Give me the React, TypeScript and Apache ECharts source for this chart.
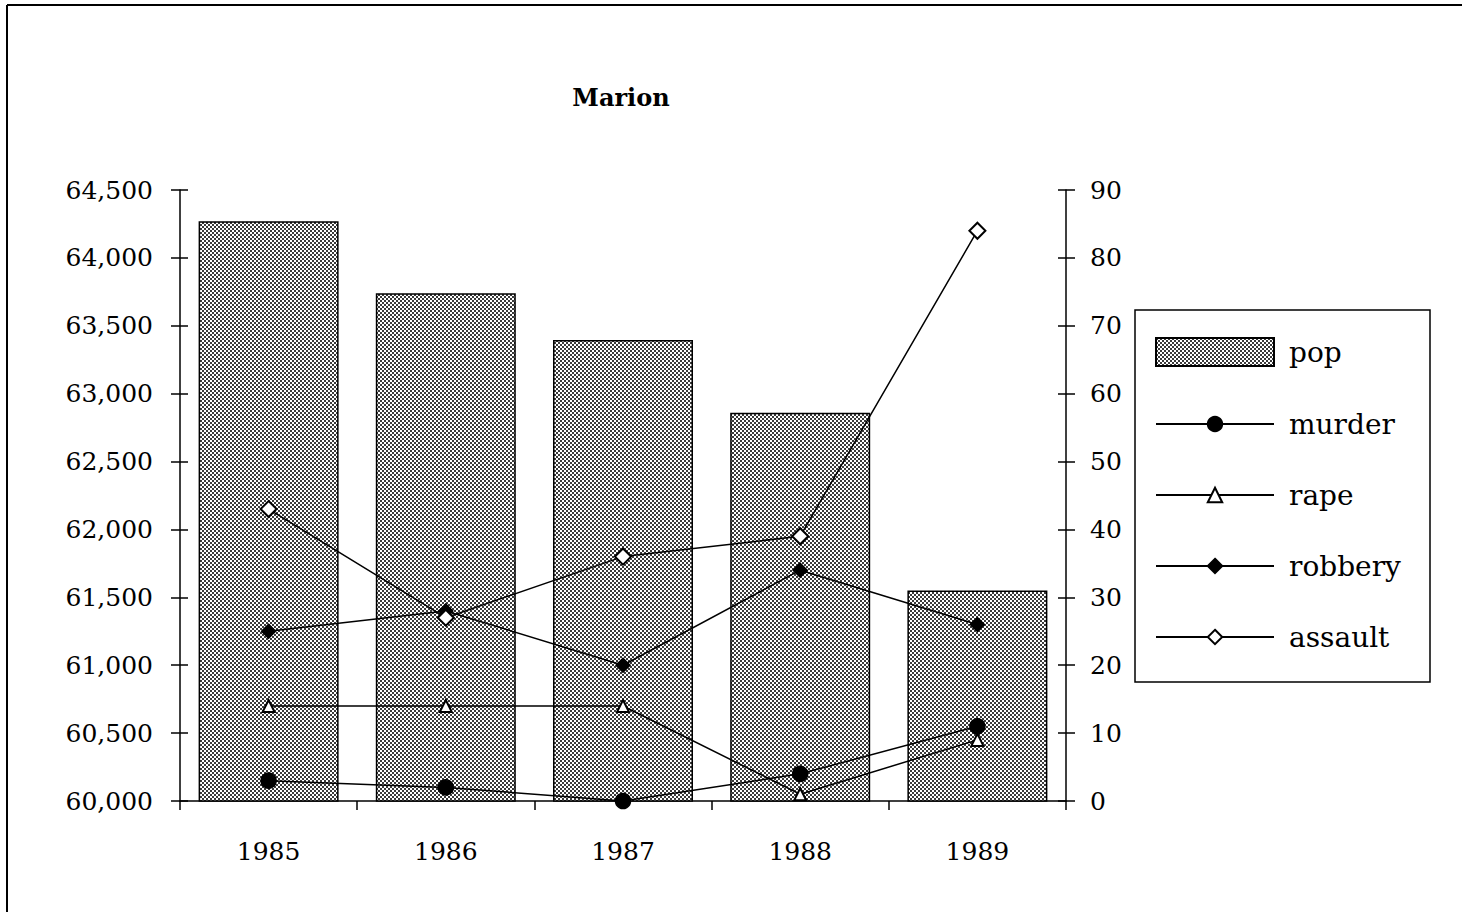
import React, { useEffect, useRef } from "react";
import * as echarts from "echarts";

const years = ["1985", "1986", "1987", "1988", "1989"];
const pop = [64270, 63740, 63395, 62860, 61550];
const murder = [3, 2, 0, 4, 11];
const rape = [14, 14, 14, 1, 9];
const robbery = [25, 28, 20, 34, 26];
const assault = [43, 27, 36, 39, 84];

const title = "Marion";
const FONT = "DejaVu Serif";

function makePattern() {
  const c = document.createElement("canvas");
  c.width = 4;
  c.height = 4;
  const ctx = c.getContext("2d");
  if (ctx) {
    ctx.fillStyle = "#ffffff";
    ctx.fillRect(0, 0, 4, 4);
    ctx.fillStyle = "#3a3a3a";
    ctx.fillRect(0, 0, 2, 2);
    ctx.fillRect(2, 2, 2, 2);
  }
  return c;
}

export default function App() {
  const ref = useRef<HTMLDivElement>(null);
  useEffect(() => {
    if (!ref.current) return;
    const chart = echarts.init(ref.current, null, { renderer: "svg" });
    const pattern = makePattern();
    const lbl = { fontFamily: FONT, fontSize: 25, color: "#000" };
    const lineSeries = (name: string, data: number[], symbol: string, size: number) => ({
      name,
      type: "line",
      yAxisIndex: 1,
      data,
      symbol,
      symbolSize: size,
      showSymbol: true,
      z: 5,
      lineStyle: { color: "#000", width: 1.5 },
      itemStyle: { color: "#000", borderColor: "#000", borderWidth: 1.5 },
    });
    chart.setOption({
      animation: false,
      backgroundColor: "#fff",
      grid: { left: 180, right: 396, top: 190, bottom: 111, containLabel: false },
      graphic: [
        { type: "line", shape: { x1: 7, y1: 5, x2: 1462, y2: 5 }, style: { stroke: "#000", lineWidth: 2 } },
        { type: "line", shape: { x1: 7, y1: 5, x2: 7, y2: 912 }, style: { stroke: "#000", lineWidth: 2 } },
        {
          type: "rect",
          shape: { x: 1135, y: 310, width: 295, height: 372 },
          style: { fill: "none", stroke: "#000", lineWidth: 1.5 },
        },
        {
          type: "text",
          x: 621,
          y: 97,
          style: {
            text: title,
            fontFamily: FONT,
            fontWeight: "bold",
            fontSize: 24,
            fill: "#000",
            align: "center",
            verticalAlign: "middle",
          },
        },
      ],
      legend: [
        {
          data: [{ name: "pop", icon: "rect" }],
          left: 1155,
          top: 334,
          orient: "vertical",
          itemWidth: 118,
          itemHeight: 28,
          padding: 0,
          textStyle: { ...lbl, fontSize: 28, lineHeight: 36, padding: [0, 0, 0, 10] },
        },
        {
          data: ["murder", "rape", "robbery", "assault"],
          left: 1155,
          top: 409,
          orient: "vertical",
          itemWidth: 118,
          itemHeight: 18,
          itemGap: 41,
          padding: 0,
          textStyle: { ...lbl, fontSize: 28, lineHeight: 30, padding: [0, 0, 0, 10] },
        },
      ],
      xAxis: [
        {
          type: "category",
          data: years,
          axisLine: { lineStyle: { color: "#000", width: 1.5 } },
          axisTick: { show: true, length: 9, lineStyle: { color: "#000", width: 1.5 } },
          axisLabel: { ...lbl, margin: 38 },
          splitLine: { show: false },
        },
      ],
      yAxis: [
        {
          type: "value",
          min: 60000,
          max: 64500,
          interval: 500,
          position: "left",
          axisLine: { show: true, lineStyle: { color: "#000", width: 1.5 } },
          axisTick: { show: true, length: 9, lineStyle: { color: "#000", width: 1.5 } },
          axisLabel: { ...lbl, margin: 27, formatter: (v: number) => v.toLocaleString("en-US") },
          splitLine: { show: false },
        },
        {
          type: "value",
          min: 0,
          max: 90,
          interval: 10,
          position: "right",
          axisLine: { show: true, lineStyle: { color: "#000", width: 1.5 } },
          axisTick: { show: true, length: 9, lineStyle: { color: "#000", width: 1.5 } },
          axisLabel: { ...lbl, margin: 24 },
          splitLine: { show: false },
        },
        {
          type: "value",
          min: 60000,
          max: 64500,
          interval: 500,
          position: "left",
          axisLine: { show: false },
          axisTick: { show: true, inside: true, length: 8, lineStyle: { color: "#000", width: 1.5 } },
          axisLabel: { show: false },
          splitLine: { show: false },
        },
        {
          type: "value",
          min: 0,
          max: 90,
          interval: 10,
          position: "right",
          axisLine: { show: false },
          axisTick: { show: true, inside: true, length: 8, lineStyle: { color: "#000", width: 1.5 } },
          axisLabel: { show: false },
          splitLine: { show: false },
        },
      ],
      series: [
        {
          name: "pop",
          type: "bar",
          yAxisIndex: 0,
          data: pop,
          barCategoryGap: "21%",
          itemStyle: {
            color: { image: pattern, repeat: "repeat" },
            borderColor: "#000",
            borderWidth: 1.5,
          },
        },
        lineSeries("murder", murder, "circle", 15),
        lineSeries("rape", rape, "emptyTriangle", 12),
        lineSeries("robbery", robbery, "diamond", 14),
        lineSeries("assault", assault, "emptyDiamond", 16),
      ],
    });
    return () => chart.dispose();
  }, []);
  return (
    <div
      ref={ref}
      style={{ position: "fixed", left: 0, top: 0, width: 1462, height: 912, background: "#fff" }}
    />
  );
}
